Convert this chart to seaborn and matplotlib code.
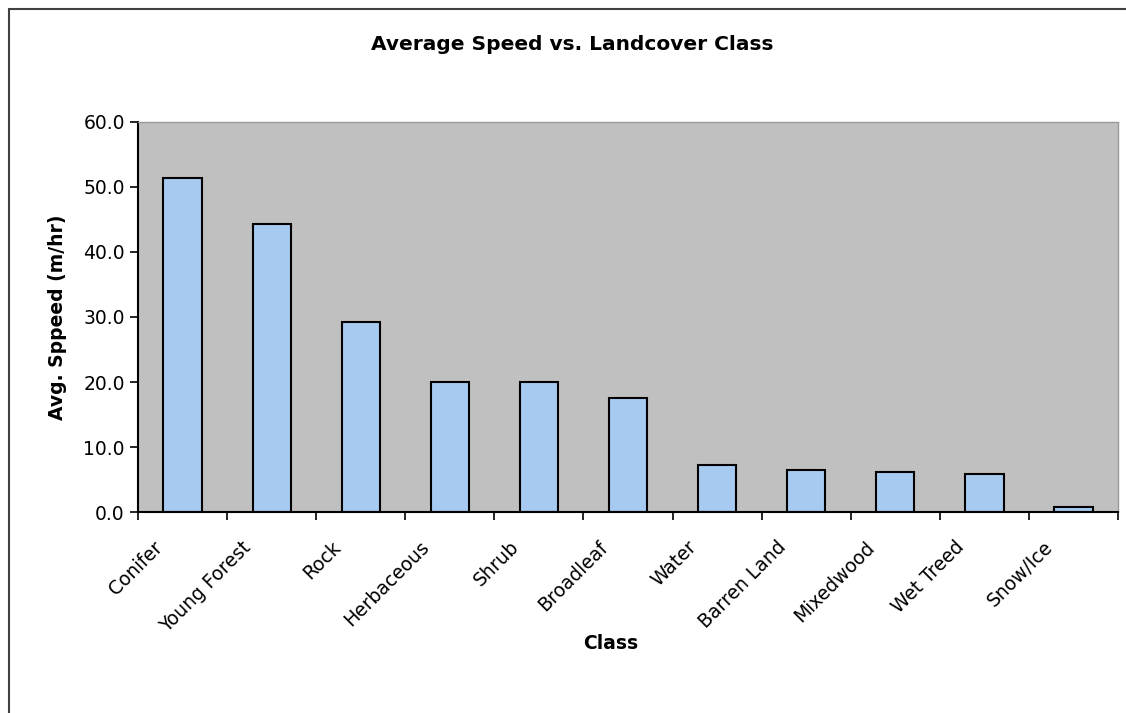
import numpy as np
import pandas as pd
import matplotlib
matplotlib.use("Agg")
import matplotlib.pyplot as plt
import matplotlib.ticker as mticker
import matplotlib.transforms as mtransforms
from matplotlib.lines import Line2D
import seaborn as sns

# datos
clases = ["Conifer", "Young Forest", "Rock", "Herbaceous", "Shrub", "Broadleaf",
          "Water", "Barren Land", "Mixedwood", "Wet Treed", "Snow/Ice"]
velocidad = [51.4, 44.3, 29.2, 20.0, 20.0, 17.5, 7.3, 6.4, 6.1, 5.8, 0.8]
y_ticks = [0, 10, 20, 30, 40, 50, 60]

df = pd.DataFrame({"Class": clases, "Speed": velocidad})

sns.set_style("white")
plt.rcParams['font.family'] = ['DejaVu Sans']
plt.rcParams['text.color'] = 'black'
plt.rcParams['axes.labelcolor'] = 'black'
plt.rcParams['xtick.color'] = 'black'
plt.rcParams['ytick.color'] = 'black'

fig = plt.figure(figsize=(11.26, 7.13), dpi=100)
ax = fig.add_axes([0.1226, 0.2819, 0.8703, 0.547])

sns.barplot(data=df, x="Class", y="Speed", color="#A6CAF0", saturation=1,
            edgecolor="black", linewidth=1.5, width=0.43, ax=ax)

ax.set_facecolor("#C0C0C0")
ax.set_xlim(-0.5, len(clases) - 0.5)
ax.set_ylim(0, 60)
ax.set_yticks(y_ticks)
ax.yaxis.set_major_formatter(mticker.FuncFormatter(lambda v, _: '{:.1f}'.format(v)))
ax.tick_params(axis='y', labelsize=13.5, length=6, width=1.2, color='black', direction='out', left=True)

# ticks del eje x en los bordes de las categorias
ax.set_xticks(np.arange(len(clases) + 1) - 0.5, minor=True)
ax.tick_params(axis='x', which='minor', length=6, width=1.2, color='black', direction='out', bottom=True)
ax.tick_params(axis='x', which='major', length=0, pad=4)
ax.set_xticks(range(len(clases)))
ax.set_xticklabels(clases, rotation=45, ha='right', rotation_mode='anchor', fontsize=13.5)

# mover un poco las etiquetas a la izquierda y abajo
desplaza = mtransforms.ScaledTranslation(-30 / 100, -20 / 100, fig.dpi_scale_trans)
for lbl in ax.get_xticklabels():
    lbl.set_transform(lbl.get_transform() + desplaza)

for lado in ['left', 'bottom']:
    ax.spines[lado].set_color('black')
    ax.spines[lado].set_linewidth(1.5)
for lado in ['right', 'top']:
    ax.spines[lado].set_color('#9a9a9a')
    ax.spines[lado].set_linewidth(1)

ax.set_xlabel("Class", fontsize=13.5, fontweight='bold', va='center')
ax.xaxis.set_label_coords(0.482, -0.336)
ax.set_ylabel("Avg. Sppeed (m/hr)", fontsize=13.5, fontweight='bold', labelpad=12)
fig.text(0.508, 0.937, "Average Speed vs. Landcover Class", ha='center', va='center',
         fontsize=14.5, fontweight='bold')

# borde exterior del grafico
fig.add_artist(Line2D([0.008, 0.008], [0, 0.987], color='#404040', lw=1.5, transform=fig.transFigure))
fig.add_artist(Line2D([0.008, 1], [0.987, 0.987], color='#404040', lw=1.5, transform=fig.transFigure))

fig.savefig("out.png", dpi=100)
